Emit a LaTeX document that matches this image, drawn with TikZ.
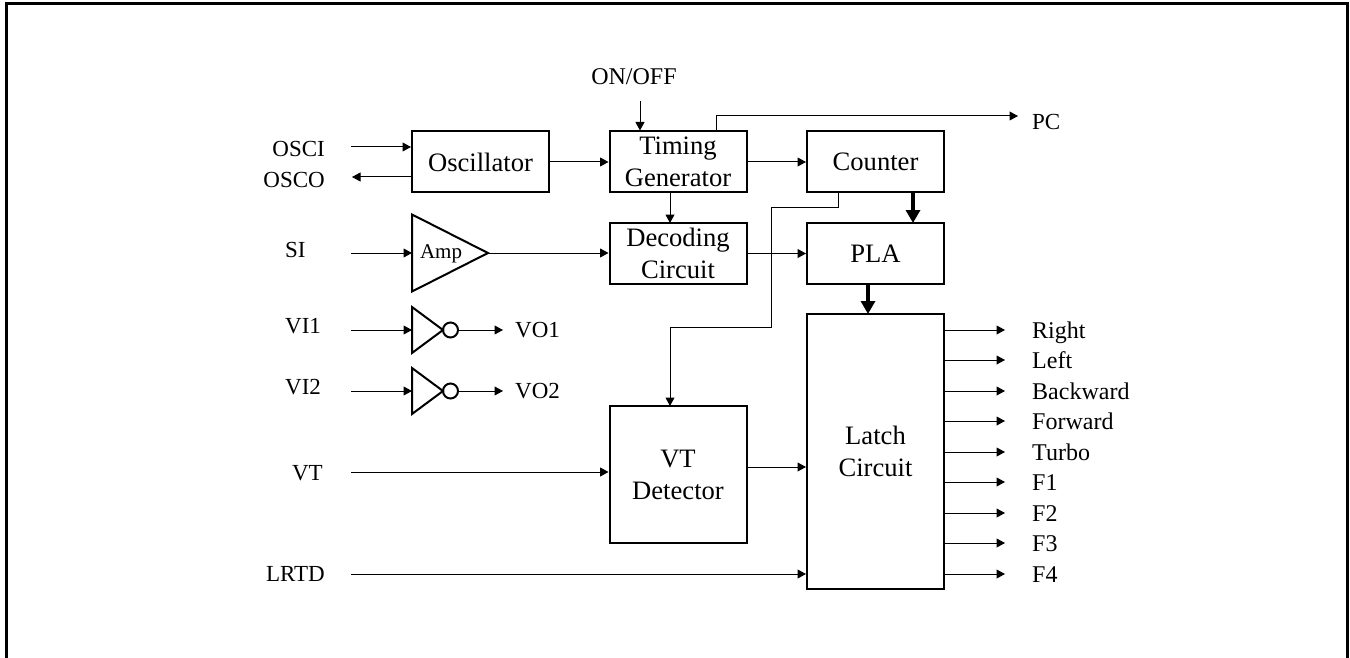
\documentclass[tikz,border=0pt]{standalone}
\usepackage{fontspec}
\setmainfont{Liberation Serif}
\usepackage{tikz}
\usetikzlibrary{arrows.meta,shapes.geometric,positioning}

\tikzset{
    blockbox/.style = {rectangle,draw,line width=2pt,minimum width=137pt,minimum height=61pt,inner sep=0pt,align=center,font=\fontsize{26.6}{32}\selectfont},
    pinlabel/.style = {inner sep=0pt,font=\fontsize{23}{23}\selectfont},
    outlabel/.style = {inner sep=0pt,anchor=base west,font=\fontsize{24}{24}\selectfont},
    wire/.style = {line width=1pt,-{Triangle[length=8.5pt,width=9pt]}},
    buswire/.style = {line width=3.2pt,-{Triangle[length=13pt,width=14pt]}},
    ampgate/.style = {isosceles triangle,isosceles triangle stretches,draw,line width=2pt,inner sep=0pt,outer sep=0pt,anchor=apex,minimum height=76pt,minimum width=77pt},
    notgate/.style = {isosceles triangle,isosceles triangle stretches,draw,line width=2pt,inner sep=0pt,outer sep=0pt,anchor=apex,minimum height=31pt,minimum width=46pt},
    notdot/.style = {circle,draw,line width=2pt,inner sep=0pt,outer sep=0pt,minimum size=15pt}
}

\begin{document}
\begin{tikzpicture}[x=1pt,y=-1pt]
    \useasboundingbox (0,0) rectangle (1350,658);
    \draw [line width=3pt] (6,658) -- (6,4) -- (1347,4) -- (1347,658);

    \node [blockbox] (osc) at (480.5,162) {Oscillator};
    \node [blockbox] (timing) at (678,162) {Timing\\Generator};
    \node [blockbox] (counter) at (875.5,162) {Counter};
    \node [blockbox] (decoding) at (678,253.5) {Decoding\\Circuit};
    \node [blockbox] (pla) at (875.5,253.5) {PLA};
    \node [blockbox,minimum height=137pt] (vt) at (678,474.5) {VT\\Detector};
    \node [blockbox,minimum height=275pt] (latch) at (875.5,451.5) {Latch\\Circuit};

    \node [ampgate] (amp) at (488,253) {};
    \node [inner sep=0pt,font=\fontsize{21}{21}\selectfont] (amplabel) at (441,254) {Amp};
    \node [notgate] (inva) at (443,330) {};
    \node [notgate] (invb) at (443,391) {};
    \node [notdot,right=0pt of inva.apex] (dota) {};
    \node [notdot,right=0pt of invb.apex] (dotb) {};

    \node [pinlabel,anchor=base east] (osci) at (325,157) {OSCI};
    \node [pinlabel,anchor=base east] (osco) at (325,187) {OSCO};
    \node [pinlabel,anchor=base west] (si) at (285,257) {SI};
    \node [pinlabel,anchor=base west] (vione) at (285,333) {VI1};
    \node [pinlabel,anchor=base west] (vitwo) at (285,394) {VI2};
    \node [pinlabel,anchor=base west] (voone) at (515,337) {VO1};
    \node [pinlabel,anchor=base west] (votwo) at (515,398) {VO2};
    \node [pinlabel,anchor=base east] (vtpin) at (323,480) {VT};
    \node [pinlabel,anchor=base east] (lrtd) at (325,581) {LRTD};
    \node [outlabel,anchor=base] (onoff) at (634,85) {ON/OFF};
    \node [pinlabel,anchor=base west] (pc) at (1032,130) {PC};

    \coordinate (osciend) at (351,147);
    \coordinate (oscoend) at (352,177);
    \coordinate (siend) at (351,253);
    \coordinate (vioneend) at (351,330);
    \coordinate (vitwoend) at (351,391);
    \coordinate (vooneend) at (503,330);
    \coordinate (votwoend) at (503,391);
    \coordinate (vtend) at (351,472);
    \coordinate (lrtdend) at (351,574);
    \coordinate (onoffend) at (640,101);
    \coordinate (pcend) at (1018,116);
    \coordinate (pcstart) at (716,131);
    \coordinate (cntstart) at (838,193);

    \draw [wire] (osciend) -- (osc.west |- osciend);
    \draw [wire] (osc.west |- oscoend) -- (oscoend);
    \draw [wire] (siend) -- (412,253);
    \draw [wire] (vioneend) -- (412,330);
    \draw [wire] (vitwoend) -- (412,391);
    \draw [wire] (dota) -- (vooneend);
    \draw [wire] (dotb) -- (votwoend);
    \draw [wire] (vtend) -- (vt.west |- vtend);
    \draw [wire] (lrtdend) -- (latch.west |- lrtdend);
    \draw [wire] (onoffend) -- (onoffend |- timing.north);
    \draw [wire] (pcstart) |- (pcend);
    \draw [wire] (osc) -- (timing);
    \draw [wire] (timing) -- (counter);
    \draw [wire] (amp.apex) -- (decoding.west |- amp.apex);
    \draw [wire] (decoding) -- (pla);
    \draw [wire] (670,193) -- (670,223);
    \draw [wire] (vt.east |- 0,467) -- (latch.west |- 0,467);
    \draw [wire] (cntstart) -- (838,207) -- (771,207) -- (771,327) -- (670,327) -- (670,406);
    \draw [buswire] (913,193) -- (913,223);
    \draw [buswire] (868,284) -- (868,314);

    \foreach \outname/\outy/\outtext in {right/330/Right,left/360/Left,backward/391/Backward,forward/421/Forward,turbo/452/Turbo,fone/482/F1,ftwo/513/F2,fthree/543/F3,ffour/574/F4}
    {
        \coordinate (\outname end) at (1005,\outy);
        \node [outlabel] (\outname) at (1032,\outy+8) {\outtext};
        \draw [wire] (latch.east |- \outname end) -- (\outname end);
    }
\end{tikzpicture}
\end{document}
